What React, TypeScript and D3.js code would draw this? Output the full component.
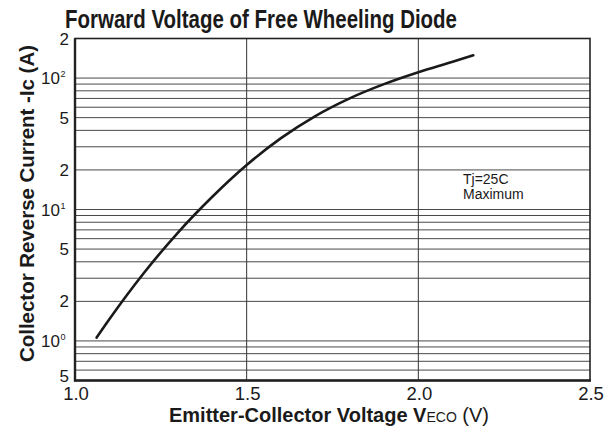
import React from "react";
import * as d3 from "d3";

const title = "Forward Voltage of Free Wheeling Diode";
const yLabel = "Collector Reverse Current -Ic (A)";
const xLabelMain = "Emitter-Collector Voltage V";
const xLabelSub = "ECO";
const xLabelUnit = " (V)";
const noteLines = ["Tj=25C", "Maximum"];

const xTicks = [1.0, 1.5, 2.0, 2.5];
const xTickLabels = ["1.0", "1.5", "2.0", "2.5"];
const yTicks = [0.5, 1, 2, 5, 10, 20, 50, 100, 200];
const yTickLabels = ["5", "10^0", "2", "5", "10^1", "2", "5", "10^2", "2"];
const yGrid = [0.6, 0.7, 0.8, 0.9, 1, 2, 3, 4, 5, 6, 7, 8, 9, 10, 20, 30, 40, 50, 60, 70, 80, 90, 100];
const xGrid = [1.5, 2.0];

const vf = [1.063, 1.1, 1.2, 1.3, 1.4, 1.5, 1.6, 1.7, 1.8, 1.9, 2.0, 2.1, 2.16];
const ic = [1.06, 1.46, 3.27, 6.68, 12.5, 21.8, 34.9, 51.4, 70.1, 89.9, 110.7, 133, 149];

const W = 613;
const H = 432;
const L = 75;
const R = 590;
const T = 38.5;
const B = 380.5;

export default function App() {
  const x = d3.scaleLinear().domain([1.0, 2.5]).range([L, R]);
  const y = d3.scaleLog().domain([0.5, 200]).range([B, T]);
  const pts = vf.map((v, i) => [v, ic[i]] as [number, number]);
  const line = d3
    .line<[number, number]>()
    .x((d) => x(d[0]))
    .y((d) => y(d[1]))
    .curve(d3.curveMonotoneX);
  const font = "'Liberation Sans', Arial, Helvetica, sans-serif";

  return (
    <svg
      width={W}
      height={H}
      viewBox={`0 0 ${W} ${H}`}
      style={{ position: "absolute", left: 0, top: 0, background: "#fff" }}
      fontFamily={font}
    >
      <rect x={0} y={0} width={W} height={H} fill="#fff" />
      <text x={65} y={28} fontSize={25} fontWeight="bold" fill="#1a1a1a" textLength={392} lengthAdjust="spacingAndGlyphs">
        {title}
      </text>
      {yGrid.map((v, i) => (
        <line key={"h" + i} x1={L} x2={R} y1={y(v)} y2={y(v)} stroke="#4a4a4a" strokeWidth={1} />
      ))}
      {xGrid.map((v, i) => (
        <line key={"v" + i} x1={x(v)} x2={x(v)} y1={T} y2={B} stroke="#333" strokeWidth={1} />
      ))}
      <rect x={L} y={T} width={R - L} height={B - T} fill="none" stroke="#222" strokeWidth={1.6} />
      <line x1={L} x2={L} y1={T} y2={B + 1} stroke="#222" strokeWidth={2.4} />
      <line x1={L - 1} x2={R + 1} y1={B} y2={B} stroke="#222" strokeWidth={2.4} />
      <path d={line(pts) || ""} fill="none" stroke="#1a1a1a" strokeWidth={2.6} strokeLinecap="round" />
      {noteLines.map((t, i) => (
        <text key={"n" + i} x={463} y={184 + i * 15} fontSize={14} fill="#1a1a1a">
          {t}
        </text>
      ))}
      {xTicks.map((v, i) => (
        <text key={"xt" + i} x={x(v) + 1} y={400} fontSize={18.5} textAnchor="middle" fill="#1a1a1a">
          {xTickLabels[i]}
        </text>
      ))}
      {yTicks.map((v, i) => {
        const lab = yTickLabels[i];
        const yy = Math.min(y(v) + 6, 382);
        if (lab.includes("^")) {
          const [base, exp] = lab.split("^");
          return (
            <g key={"yt" + i}>
              <text x={60} y={yy} fontSize={17} textAnchor="end" fill="#1a1a1a">
                {base}
              </text>
              <text x={60.5} y={yy - 7} fontSize={9} textAnchor="start" fill="#1a1a1a">
                {exp}
              </text>
            </g>
          );
        }
        return (
          <text key={"yt" + i} x={69} y={yy} fontSize={17} textAnchor="end" fill="#1a1a1a">
            {lab}
          </text>
        );
      })}
      <text
        transform={`translate(34, ${(45 + 362) / 2}) rotate(-90)`}
        fontSize={20}
        fontWeight="bold"
        textAnchor="middle"
        fill="#1a1a1a"
        textLength={317}
        lengthAdjust="spacingAndGlyphs"
      >
        {yLabel}
      </text>
      <text x={169} y={421.5} fontSize={20} fontWeight="bold" fill="#1a1a1a">
        {xLabelMain}
        <tspan fontSize={14} fontWeight="normal">{xLabelSub}</tspan>
        <tspan fontWeight="normal">{xLabelUnit}</tspan>
      </text>
    </svg>
  );
}
